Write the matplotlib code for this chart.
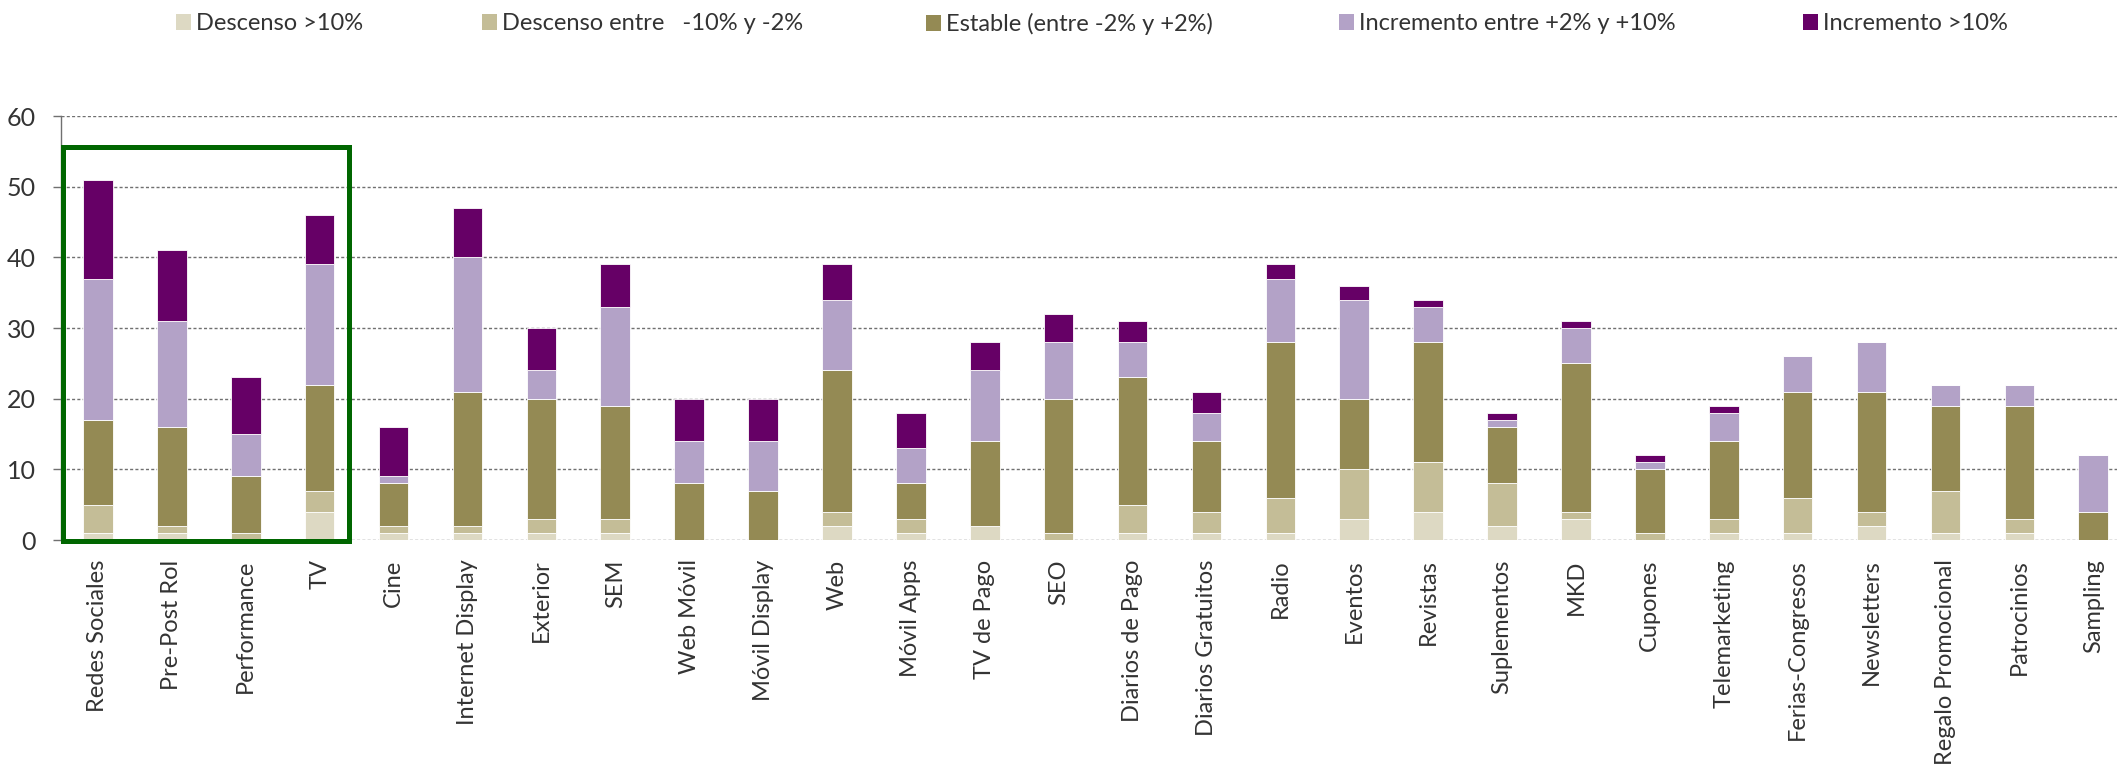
import matplotlib
matplotlib.use("Agg")
import matplotlib.pyplot as plt
from matplotlib.patches import Rectangle, Patch
import numpy as np

plt.rcParams['font.family'] = ['Lato', 'DejaVu Sans']

categories = ["Redes Sociales", "Pre-Post Rol", "Performance", "TV", "Cine",
              "Internet Display", "Exterior", "SEM", "Web Móvil", "Móvil Display",
              "Web", "Móvil Apps", "TV de Pago", "SEO", "Diarios de Pago",
              "Diarios Gratuitos", "Radio", "Eventos", "Revistas", "Suplementos",
              "MKD", "Cupones", "Telemarketing", "Ferias-Congresos", "Newsletters",
              "Regalo Promocional", "Patrocinios", "Sampling"]

descenso_mas10 = [1, 1, 0, 4, 1, 1, 1, 1, 0, 0, 2, 1, 2, 0, 1, 1, 1, 3, 4, 2, 3, 0, 1, 1, 2, 1, 1, 0]
descenso_10_2 = [4, 1, 1, 3, 1, 1, 2, 2, 0, 0, 2, 2, 0, 1, 4, 3, 5, 7, 7, 6, 1, 1, 2, 5, 2, 6, 2, 0]
estable = [12, 14, 8, 15, 6, 19, 17, 16, 8, 7, 20, 5, 12, 19, 18, 10, 22, 10, 17, 8, 21, 9, 11, 15, 17, 12, 16, 4]
incremento_2_10 = [20, 15, 6, 17, 1, 19, 4, 14, 6, 7, 10, 5, 10, 8, 5, 4, 9, 14, 5, 1, 5, 1, 4, 5, 7, 3, 3, 8]
incremento_mas10 = [14, 10, 8, 7, 7, 7, 6, 6, 6, 6, 5, 5, 4, 4, 3, 3, 2, 2, 1, 1, 1, 1, 1, 0, 0, 0, 0, 0]

series_labels = ["Descenso >10%", "Descenso entre   -10% y -2%", "Estable (entre -2% y +2%)",
                 "Incremento entre +2% y +10%", "Incremento >10%"]
series = [descenso_mas10, descenso_10_2, estable, incremento_2_10, incremento_mas10]
colors = ["#DDD9C3", "#C4BD97", "#948A54", "#B3A2C7", "#660066"]

W, H = 2117, 773
fig = plt.figure(figsize=(W / 100, H / 100), dpi=100)
ax_left, ax_bottom, ax_top = 61, 540, 116
unit = 73.9
ax = fig.add_axes([ax_left / W, (H - ax_bottom) / H, 28 * unit / W, (ax_bottom - ax_top) / H])

x = np.arange(len(categories))
bottom = np.zeros(len(categories))
for vals, col, lab in zip(series, colors, series_labels):
    v = np.array(vals, dtype=float)
    ax.bar(x, v, width=0.4, bottom=bottom, color=col, edgecolor='white',
           linewidth=0.6, label=lab, zorder=3)
    bottom += v

ax.set_xlim(-0.5, 27.5)
ax.set_ylim(0, 60)
ax.set_yticks(range(0, 61, 10))
ax.yaxis.grid(True, linestyle=(0, (2.2, 1.6)), color='#707070', linewidth=1.0, zorder=0)
ax.set_axisbelow(True)
for s in ['top', 'right', 'bottom']:
    ax.spines[s].set_visible(False)
ax.spines['left'].set_color('#707070')
ax.spines['left'].set_linewidth(1.0)
ax.tick_params(axis='y', length=6, width=1, color='#707070', pad=12,
               labelsize=18, labelcolor='#333333')
ax.set_xticks(x)
ax.set_xticklabels(categories, rotation=90, fontsize=17, color='#333333')
ax.tick_params(axis='x', length=0, pad=14)

# highlight box
rect = Rectangle((-0.467, -0.1), 3.867, 55.7, fill=False, edgecolor='#006600',
                 linewidth=3.6, clip_on=False, zorder=5)
ax.add_patch(rect)

# legend entries
legend_x = [176, 482, 926, 1339, 1803]
fs = 17
fs_px = fs * 100 / 72
for xp, col, lab in zip(legend_x, colors, series_labels):
    leg = fig.legend(handles=[Patch(facecolor=col, edgecolor='none')], labels=[lab],
                     loc='center left', bbox_to_anchor=(xp / W, 1 - 24 / H),
                     frameon=False, fontsize=fs, borderpad=0, borderaxespad=0,
                     handlelength=15 / fs_px, handleheight=15 / fs_px,
                     handletextpad=5 / fs_px, labelcolor='#333333')

fig.savefig("out.png", dpi=100)
